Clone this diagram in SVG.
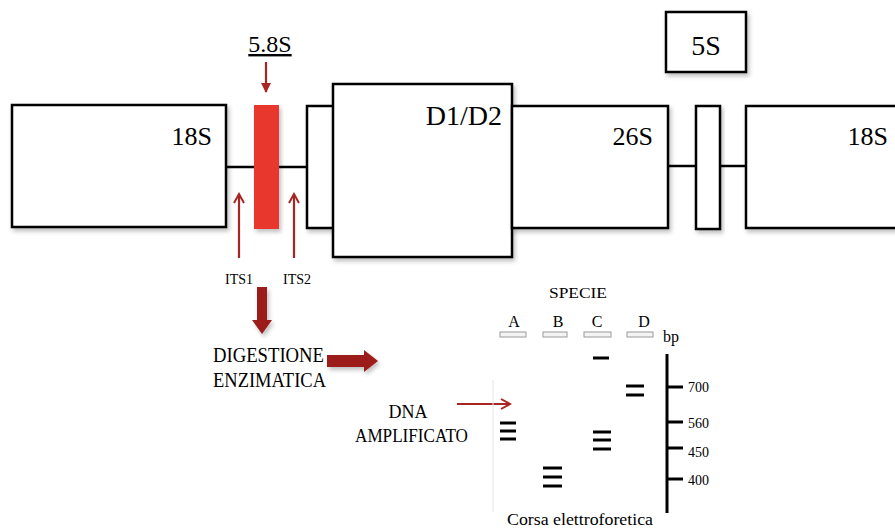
<svg xmlns="http://www.w3.org/2000/svg" width="895" height="530" viewBox="0 0 895 530">
<defs>
<filter id="sh" x="-10%" y="-10%" width="130%" height="130%"><feDropShadow dx="2" dy="3" stdDeviation="2" flood-color="#000" flood-opacity="0.25"/></filter>
<marker id="chev" viewBox="0 0 12 12" refX="10" refY="6" markerWidth="12" markerHeight="12" markerUnits="userSpaceOnUse" orient="auto"><path d="M1,1 L10,6 L1,11" fill="none" stroke="#a82622" stroke-width="2"/></marker>
<marker id="tri" viewBox="0 0 10 10" refX="9" refY="5" markerWidth="10" markerHeight="10" markerUnits="userSpaceOnUse" orient="auto"><path d="M0,0 L10,5 L0,10 Z" fill="#a82622"/></marker>
</defs>
<style>
.box{fill:#fff;stroke:#000;stroke-width:2.5;filter:url(#sh)}
text{font-family:'Liberation Serif','DejaVu Serif',serif;fill:#000}
.link{stroke:#000;stroke-width:2.5;fill:none}
.thin{stroke:#a82622;stroke-width:2.2;fill:none}
.fat{fill:#9c1c1c;filter:url(#sh)}
.band{stroke:#000;stroke-width:3}
.well{fill:#f4f4f4;stroke:#9a9a9a;stroke-width:1}
</style>
<rect width="895" height="530" fill="#fff"/>
<g id="connectors">
<line class="link" x1="226" y1="167" x2="307" y2="167"/>
<line class="link" x1="668" y1="166" x2="696" y2="166"/>
<line class="link" x1="720" y1="166" x2="746" y2="166"/>
<line class="thin" x1="266" y1="62" x2="266" y2="92" marker-end="url(#tri)" stroke-width="3"/>
<line class="thin" x1="239" y1="258" x2="239" y2="194" marker-end="url(#chev)"/>
<line class="thin" x1="294" y1="258" x2="294" y2="194" marker-end="url(#chev)"/>
<line class="thin" x1="457" y1="404" x2="510" y2="404" marker-end="url(#chev)"/>
<path class="fat" d="M257,287 H267 V320 H272 L262,334 L252,320 H257 Z"/>
<path class="fat" d="M327,355 H364 V350 L378,361 L364,372 V367 H327 Z"/>
</g>
<g id="n18S_left"><rect class="box" x="12" y="105" width="214" height="122"/><text x="212" y="145" font-family="Liberation Serif, serif" font-size="26" text-anchor="end">18S</text></g>
<g id="n58S"><rect x="254" y="105" width="25" height="124" fill="#e8392f" filter="url(#sh)"/><text x="270" y="52" font-family="Liberation Serif, serif" font-size="24" text-anchor="middle" text-decoration="underline">5.8S</text></g>
<g id="nsmall1"><rect class="box" x="307" y="106" width="27" height="122"/></g>
<g id="nD1D2"><rect class="box" x="333" y="84" width="179" height="173"/><text x="502" y="125" font-family="Liberation Serif, serif" font-size="28" text-anchor="end">D1/D2</text></g>
<g id="n26S"><rect class="box" x="512" y="106" width="156" height="122"/><text x="653" y="145" font-family="Liberation Serif, serif" font-size="26" text-anchor="end">26S</text></g>
<g id="nsmall2"><rect class="box" x="696" y="106" width="24" height="123"/></g>
<g id="n5S"><rect class="box" x="666" y="12" width="80" height="60"/><text x="706" y="55" font-family="Liberation Serif, serif" font-size="28" text-anchor="middle">5S</text></g>
<g id="n18S_right"><rect class="box" x="746" y="106" width="160" height="122"/><text x="888" y="145" font-family="Liberation Serif, serif" font-size="26" text-anchor="end">18S</text></g>
<g id="its_labels" font-family="Liberation Serif, serif">
<text x="239" y="284" font-size="14" text-anchor="middle">ITS1</text>
<text x="297" y="284" font-size="14" text-anchor="middle">ITS2</text>
</g>
<g id="digestione" font-family="Liberation Serif, serif">
<text x="213" y="362" font-size="20" textLength="111" lengthAdjust="spacingAndGlyphs">DIGESTIONE</text>
<text x="213" y="387" font-size="20" textLength="113" lengthAdjust="spacingAndGlyphs">ENZIMATICA</text>
</g>
<g id="dna" font-family="Liberation Serif, serif">
<text x="408" y="418" font-size="18" text-anchor="middle">DNA</text>
<text x="355" y="442" font-size="18" textLength="113" lengthAdjust="spacingAndGlyphs">AMPLIFICATO</text>
</g>
<g id="gel" font-family="Liberation Serif, serif">
<line x1="493" y1="380" x2="493" y2="512" stroke="#e4e4e4" stroke-width="1"/>
<text x="578" y="298" font-size="15" text-anchor="middle" textLength="58" lengthAdjust="spacingAndGlyphs">SPECIE</text>
<text x="514" y="327" font-size="16" text-anchor="middle">A</text>
<text x="558" y="327" font-size="16" text-anchor="middle">B</text>
<text x="597" y="327" font-size="16" text-anchor="middle">C</text>
<text x="644" y="327" font-size="16" text-anchor="middle">D</text>
<rect class="well" x="500" y="332" width="26" height="5"/>
<rect class="well" x="543" y="332" width="24" height="5"/>
<rect class="well" x="584" y="332" width="27" height="5"/>
<rect class="well" x="627" y="332" width="26" height="5"/>
<text x="663" y="342" font-size="16">bp</text>
<line x1="667" y1="354" x2="667" y2="513" stroke="#000" stroke-width="3"/>
<line class="band" x1="667" y1="387" x2="683" y2="387"/>
<line class="band" x1="667" y1="422" x2="683" y2="422"/>
<line class="band" x1="667" y1="448" x2="683" y2="448"/>
<line class="band" x1="667" y1="479" x2="683" y2="479"/>
<text x="688" y="392" font-size="14">700</text>
<text x="688" y="428" font-size="14">560</text>
<text x="688" y="457" font-size="14">450</text>
<text x="688" y="485" font-size="14">400</text>
<line class="band" x1="593" y1="358" x2="609" y2="358"/>
<line class="band" x1="626" y1="386" x2="644" y2="386"/>
<line class="band" x1="626" y1="395" x2="644" y2="395"/>
<line class="band" x1="500" y1="423" x2="516" y2="423"/>
<line class="band" x1="500" y1="431" x2="516" y2="431"/>
<line class="band" x1="500" y1="439" x2="516" y2="439"/>
<line class="band" x1="593" y1="432" x2="611" y2="432"/>
<line class="band" x1="593" y1="440" x2="611" y2="440"/>
<line class="band" x1="593" y1="449" x2="611" y2="449"/>
<line class="band" x1="543" y1="468" x2="562" y2="468"/>
<line class="band" x1="543" y1="477" x2="562" y2="477"/>
<line class="band" x1="543" y1="486" x2="562" y2="486"/>
<text x="580" y="525" font-size="17" text-anchor="middle" textLength="146" lengthAdjust="spacingAndGlyphs">Corsa elettroforetica</text>
</g>
</svg>
